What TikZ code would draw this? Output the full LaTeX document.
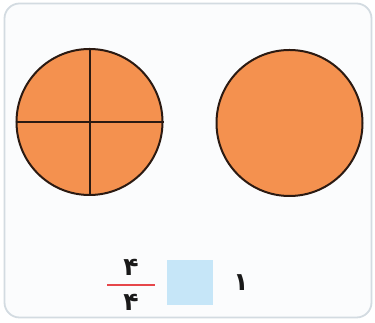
\documentclass[tikz,border=0pt]{standalone}
\usepackage{fontspec}
\newfontfamily\arabicfont[Script=Arabic]{DejaVu Sans}
\definecolor{frameline}{HTML}{D3DBE1}
\definecolor{framefill}{HTML}{FBFCFD}
\definecolor{pie}{HTML}{F4914F}
\definecolor{pieline}{HTML}{2B1A12}
\definecolor{boxblue}{HTML}{C6E6F8}
\definecolor{fracred}{HTML}{E6474B}
\tikzset{
  disc/.style={circle, draw=pieline, fill=pie, line width=2pt, minimum size=146pt, inner sep=0pt},
  cut/.style={draw=pieline, line width=2pt},
  digit/.style={inner sep=0pt, font=\arabicfont\bfseries\fontsize{25}{25}\selectfont, text=black!90},
}
\begin{document}
\begin{tikzpicture}[x=1pt,y=1pt]
\useasboundingbox (0,0) rectangle (375,323);
\node[draw=frameline, fill=framefill, line width=1.8pt, rounded corners=15pt, minimum width=367pt, minimum height=314pt, inner sep=0pt] (frame) at (188,162.5) {};
\node[disc] (c1) at (89.5,201) {};
\node[disc] (c2) at (289.5,200) {};
\draw[cut] (c1.north) -- (c1.south);
\draw[cut] (c1.west) -- (c1.east);
\node[digit] (num) at (131,56) {۴};
\node[digit] (den) at (131,21) {۴};
\coordinate (fl) at (107,38);
\coordinate (fr) at (155,38);
\draw[fracred, line width=1.4pt] (fl) -- (fr);
\node[fill=boxblue, minimum width=46pt, minimum height=45pt, inner sep=0pt] (box) at (190,40.5) {};
\node[digit] (one) at (241,40) {۱};
\end{tikzpicture}
\end{document}
